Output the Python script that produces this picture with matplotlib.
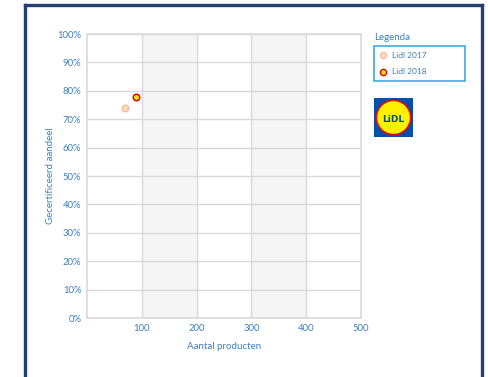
import matplotlib
matplotlib.use("Agg")
import matplotlib.pyplot as plt
from matplotlib.patches import Rectangle, Circle
from matplotlib.lines import Line2D

# data
series = ["Lidl 2017", "Lidl 2018"]
x_products = [69, 89]
y_share = [73.9, 77.8]
face_colors = ["#fde2b0", "#ffe400"]
edge_colors = ["#f8bcb0", "#e2001a"]
x_ticks = [100, 200, 300, 400, 500]
y_ticks = list(range(0, 101, 10))
shaded = [(100, 200), (300, 400)]

txt = "#3b7fc0"
plt.rcParams['font.family'] = ['Lato', 'DejaVu Sans']

W, H = 488, 377
fig = plt.figure(figsize=(W/100, H/100), dpi=100)
fig.patch.set_facecolor("white")

# outer navy frame
for (x0, y0, x1, y1) in [(25, 5, 482, 5), (25, 5, 25, 377), (482, 5, 482, 377)]:
    fig.add_artist(Line2D([x0/W, x1/W], [1-y0/H, 1-y1/H], color="#25406e", lw=2.4,
                          solid_capstyle="projecting"))

L, R, T, B = 87, 361, 34, 318
ax = fig.add_axes([L/W, 1-B/H, (R-L)/W, (B-T)/H])
ax.set_xlim(0, 500)
ax.set_ylim(0, 100)
for a, b in shaded:
    ax.axvspan(a, b, color="#f5f5f5", zorder=0, lw=0)
ax.set_xticks(x_ticks)
ax.set_yticks(y_ticks)
ax.set_yticklabels([f"{v}%" for v in y_ticks])
ax.grid(True, color="#d9d9d9", lw=1, zorder=1)
for s in ax.spines.values():
    s.set_color("#d9d9d9")
    s.set_linewidth(1.2)
ax.tick_params(length=0, colors=txt, labelsize=6.8, pad=4)
ax.set_xlabel("Aantal producten", color=txt, fontsize=7, labelpad=7)
ax.set_ylabel("Gecertificeerd aandeel", color=txt, fontsize=7, labelpad=2)

for xv, yv, fc, ec, lab in zip(x_products, y_share, face_colors, edge_colors, series):
    ax.scatter([xv], [yv], s=22, facecolor=fc, edgecolor=ec, linewidth=1.1, zorder=5, label=lab,
               clip_on=False)

# legend
fig.text(374/W, 1-38/H, "Legenda", color=txt, fontsize=7, va="center", ha="left")
fig.add_artist(Rectangle((374/W, 1-81/H), (465-374)/W, (81-46)/H, transform=fig.transFigure,
                         fill=False, edgecolor="#2aa6d6", lw=1.1))
for i, (lab, fc, ec) in enumerate(zip(series, face_colors, edge_colors)):
    yy = 1 - (55 + i*17)/H
    fig.add_artist(Line2D([383/W], [yy], marker="o", ms=4.5, markerfacecolor=fc,
                          markeredgecolor=ec, markeredgewidth=1, lw=0))
    fig.text(392/W, yy, lab, color=txt, fontsize=6, va="center", ha="left")

# logo
lax = fig.add_axes([374/W, 1-137/H, 39/W, 39/H])
lax.set_xlim(0, 1); lax.set_ylim(0, 1); lax.axis("off")
lax.add_patch(Rectangle((0, 0), 1, 1, color="#0050aa"))
lax.add_patch(Circle((0.5, 0.5), 0.44, facecolor="#fff000", edgecolor="#e60a14", lw=1.2))
lax.text(0.5, 0.46, "LiDL", color="#0050aa", fontsize=6.5, fontweight="bold",
         ha="center", va="center", family="DejaVu Sans")

fig.savefig("out.png", dpi=100)
